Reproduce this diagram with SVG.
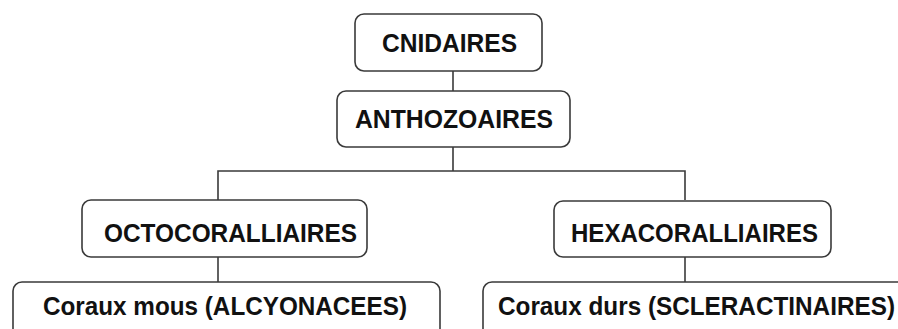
<svg xmlns="http://www.w3.org/2000/svg" width="898" height="329" viewBox="0 0 898 329">
<style>
.box{fill:#fff;stroke:#3a3a3a;stroke-width:1.6}
.lbl{font-family:"Liberation Sans",Arial,sans-serif;font-weight:bold;font-size:26px;fill:#111}
.con{fill:none;stroke:#3a3a3a;stroke-width:1.6}
</style>
<rect width="898" height="329" fill="#fff"/>
<g id="connectors">
<line class="con" x1="453" y1="71" x2="453" y2="91"/>
<path class="con" d="M453 147V171M218 200V171H685V200"/>
<line class="con" x1="218" y1="257" x2="218" y2="282"/>
<line class="con" x1="685" y1="257" x2="685" y2="282"/>
</g>
<g id="cnidaires">
<rect class="box" x="355" y="14" width="187" height="57" rx="9"/>
<text class="lbl" x="382" y="52" textLength="135" lengthAdjust="spacingAndGlyphs">CNIDAIRES</text>
</g>
<g id="anthozoaires">
<rect class="box" x="337" y="91" width="233" height="56" rx="9"/>
<text class="lbl" x="355" y="128" textLength="198" lengthAdjust="spacingAndGlyphs">ANTHOZOAIRES</text>
</g>
<g id="octocoralliaires">
<rect class="box" x="82" y="200" width="285" height="57" rx="9"/>
<text class="lbl" x="104" y="242" textLength="253" lengthAdjust="spacingAndGlyphs">OCTOCORALLIAIRES</text>
</g>
<g id="hexacoralliaires">
<rect class="box" x="554" y="201" width="277" height="56" rx="9"/>
<text class="lbl" x="571" y="242" textLength="247" lengthAdjust="spacingAndGlyphs">HEXACORALLIAIRES</text>
</g>
<g id="coraux-mous">
<rect class="box" x="13" y="282" width="427" height="70" rx="9"/>
<text class="lbl" x="43" y="315" textLength="364" lengthAdjust="spacingAndGlyphs">Coraux mous (ALCYONACEES)</text>
</g>
<g id="coraux-durs">
<rect class="box" x="483" y="282" width="440" height="70" rx="9"/>
<text class="lbl" x="498" y="315" textLength="397" lengthAdjust="spacingAndGlyphs">Coraux durs (SCLERACTINAIRES)</text>
</g>
</svg>
